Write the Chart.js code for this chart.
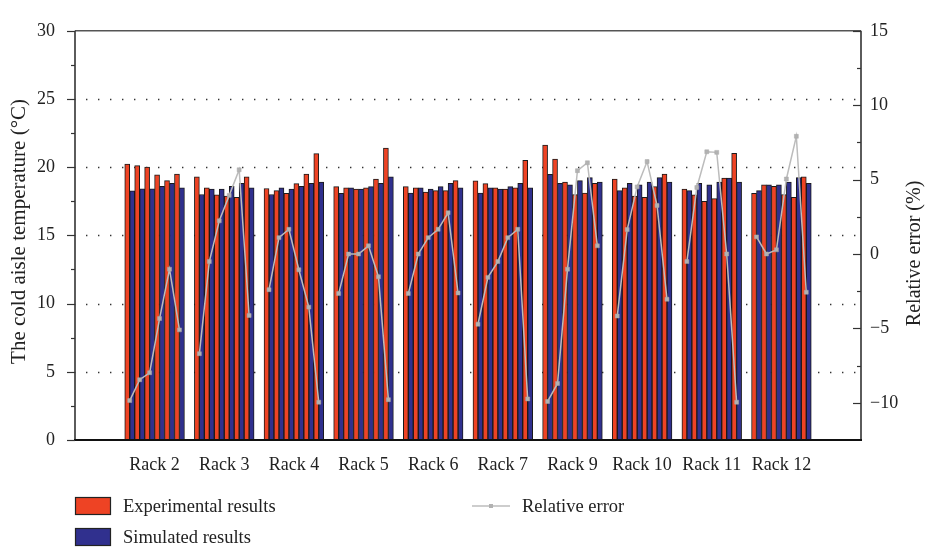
<!DOCTYPE html>
<html>
<head>
<meta charset="utf-8">
<style>
  html, body { margin: 0; padding: 0; background: #ffffff; }
  #wrap { width: 926px; height: 550px; }
</style>
<script src="https://cdn.jsdelivr.net/npm/chart.js@4/dist/chart.umd.min.js"></script>
</head>
<body>
<div id="wrap"><canvas id="chart" width="926" height="550"></canvas></div>
<script>
// Rack names along the x axis
const racks = ['Rack 2', 'Rack 3', 'Rack 4', 'Rack 5', 'Rack 6', 'Rack 7', 'Rack 9', 'Rack 10', 'Rack 11', 'Rack 12'];

// Cold aisle temperature (°C), six measuring points per rack
const experimental = [
  20.23, 20.12, 20.00, 19.44, 19.02, 19.49,
  19.30, 18.49, 17.98, 17.88, 17.79, 19.30,
  18.44, 18.28, 18.09, 18.79, 19.49, 21.00,
  18.58, 18.49, 18.40, 18.49, 19.12, 21.40,
  18.58, 18.49, 18.18, 18.28, 18.28, 19.02,
  19.00, 18.79, 18.49, 18.40, 18.49, 20.51,
  21.63, 20.60, 18.91, 18.00, 18.11, 18.81,
  19.12, 18.49, 17.88, 17.79, 18.58, 19.49,
  18.40, 17.98, 17.49, 17.70, 19.21, 21.02,
  18.09, 18.70, 18.60, 18.00, 17.79, 19.30
];
const simulated = [
  18.26, 18.42, 18.42, 18.60, 18.81, 18.49,
  18.00, 18.40, 18.40, 18.60, 18.81, 18.49,
  18.00, 18.49, 18.40, 18.60, 18.81, 18.91,
  18.09, 18.49, 18.40, 18.58, 18.81, 19.30,
  18.11, 18.49, 18.40, 18.58, 18.81, 18.49,
  18.11, 18.49, 18.40, 18.58, 18.81, 18.49,
  19.47, 18.81, 18.70, 19.02, 19.23, 18.91,
  18.28, 18.81, 18.70, 18.91, 19.23, 18.91,
  18.28, 18.81, 18.70, 18.91, 19.21, 18.91,
  18.28, 18.70, 18.70, 18.91, 19.23, 18.81
];
// Relative error (%)
const relativeError = [
  -9.85, -8.45, -7.98, -4.34, -1.02, -5.10,
  -6.70, -0.51,  2.23,  3.94,  5.66, -4.13,
  -2.40,  1.10,  1.66, -1.06, -3.57, -9.96,
  -2.66,  0.00,  0.00,  0.55, -1.53, -9.79,
  -2.66,  0.00,  1.10,  1.66,  2.77, -2.62,
  -4.72, -1.57, -0.51,  1.10,  1.66, -9.74,
  -9.91, -8.70, -1.02,  5.60,  6.13,  0.55,
  -4.17,  1.64,  4.51,  6.21,  3.26, -3.04,
  -0.51,  4.47,  6.87,  6.83,  0.00, -9.96,
   1.15,  0.00,  0.28,  5.04,  7.91, -2.57
];

// Axis ticks
const tempTicks = [0, 5, 10, 15, 20, 25, 30];
const errorTicks = [-10, -5, 0, 5, 10, 15];

const POINTS = 6;          // measuring points per rack
const SLOTS = 7;           // six points plus one empty slot between racks
const EDGE = 5;            // empty slots before the first and after the last rack

// x position (in rack units) of the j-th measuring point
const xOf = j => Math.floor(j / POINTS) + ((j % POINTS) - (POINTS - 1) / 2) / SLOTS;

const expData = experimental.map((v, j) => ({ x: xOf(j), y: v }));
const simData = simulated.map((v, j) => ({ x: xOf(j), y: v }));
const errData = [];
relativeError.forEach((v, j) => {
  errData.push({ x: xOf(j), y: v });
  const r = Math.floor(j / POINTS);
  if (j % POINTS === POINTS - 1 && r < racks.length - 1) errData.push({ x: r + 0.5, y: null });
});

const FONT = 'Liberation Serif';
const RED = '#EE4324';
const BLUE = '#30308E';
const GREY = '#bcbcbc';

const fmt = v => (v < 0 ? '\u2212' + Math.abs(v) : String(v));

const decorations = {
  id: 'decorations',
  beforeDatasetsDraw(chart) {
    const { ctx, chartArea: a, scales } = chart;
    ctx.save();
    ctx.strokeStyle = '#333';
    ctx.lineWidth = 1.4;
    ctx.setLineDash([1.4, 10.6]);
    ctx.lineDashOffset = -11;
    tempTicks.slice(1, -1).forEach(v => {
      const y = Math.round(scales.y.getPixelForValue(v)) + 0.5;
      ctx.beginPath();
      ctx.moveTo(a.left, y);
      ctx.lineTo(a.right, y);
      ctx.stroke();
    });
    ctx.restore();
  },
  afterDatasetsDraw(chart) {
    const { ctx, chartArea: a, scales } = chart;
    ctx.save();
    // frame
    ctx.lineWidth = 1.6;
    ctx.strokeStyle = '#555';
    ctx.beginPath(); ctx.moveTo(a.left, a.top); ctx.lineTo(a.right, a.top); ctx.stroke();
    ctx.strokeStyle = '#333';
    ctx.beginPath(); ctx.moveTo(a.left, a.top); ctx.lineTo(a.left, a.bottom); ctx.stroke();
    ctx.beginPath(); ctx.moveTo(a.right, a.top); ctx.lineTo(a.right, a.bottom); ctx.stroke();
    ctx.strokeStyle = '#111';
    ctx.lineWidth = 2;
    ctx.beginPath(); ctx.moveTo(a.left - 1, a.bottom); ctx.lineTo(a.right + 1, a.bottom); ctx.stroke();
    // tick marks: major every 5, minor half-way between
    ctx.lineWidth = 1.2;
    ctx.strokeStyle = '#333';
    const mark = (x0, x1, y) => { ctx.beginPath(); ctx.moveTo(x0, y); ctx.lineTo(x1, y); ctx.stroke(); };
    for (let i = 0; i < tempTicks.length; i++) {
      const v = tempTicks[i];
      mark(a.left - 8, a.left, Math.round(scales.y.getPixelForValue(v)) + 0.5);
      if (i < tempTicks.length - 1) {
        const m = (v + tempTicks[i + 1]) / 2;
        mark(a.left - 4, a.left, Math.round(scales.y.getPixelForValue(m)) + 0.5);
      }
    }
    for (let i = 0; i < errorTicks.length; i++) {
      const v = errorTicks[i];
      mark(a.right - 8, a.right, Math.round(scales.y1.getPixelForValue(v)) + 0.5);
      const m = v - 2.5;
      if (m > scales.y1.min) mark(a.right - 4, a.right, Math.round(scales.y1.getPixelForValue(m)) + 0.5);
    }
    ctx.restore();
  },
  afterDraw(chart) {
    const { ctx, chartArea: a } = chart;
    ctx.save();
    ctx.fillStyle = '#222';
    ctx.textAlign = 'center';
    ctx.textBaseline = 'middle';
    const midY = (a.top + a.bottom) / 2;
    // axis titles, both reading bottom to top
    [['The cold aisle temperature (\u00B0C)', 19, 21, midY - 4], ['Relative error (%)', 915, 20, midY + 18]].forEach(([t, x, size, y]) => {
      ctx.save();
      ctx.font = size + 'px "' + FONT + '"';
      ctx.translate(x, y);
      ctx.rotate(-Math.PI / 2);
      ctx.fillText(t, 0, 0);
      ctx.restore();
    });

    // legend
    const ds = chart.data.datasets;
    ctx.font = '18.5px "' + FONT + '"';
    ctx.textAlign = 'left';
    const boxes = [[ds[0], 506], [ds[1], 537]];
    boxes.forEach(([d, y]) => {
      ctx.fillStyle = d.backgroundColor;
      ctx.fillRect(75, y - 9, 36, 18);
      ctx.strokeStyle = '#222';
      ctx.lineWidth = 1.2;
      ctx.strokeRect(75.5, y - 8.5, 35, 17);
      ctx.fillStyle = '#222';
      ctx.fillText(d.label, 123, y + 1);
    });
    const e = ds[2];
    ctx.strokeStyle = e.borderColor;
    ctx.lineWidth = 1.5;
    ctx.beginPath(); ctx.moveTo(472, 506); ctx.lineTo(510, 506); ctx.stroke();
    ctx.fillStyle = e.pointBackgroundColor;
    ctx.fillRect(489, 504, 4, 4);
    ctx.fillStyle = '#222';
    ctx.fillText(e.label, 522, 507);
    ctx.restore();
  }
};

new Chart(document.getElementById('chart'), {
  type: 'bar',
  data: {
    datasets: [
      {
        label: 'Experimental results',
        data: expData,
        backgroundColor: RED,
        borderColor: '#1a1a1a',
        borderWidth: 1,
        yAxisID: 'y',
        order: 1
      },
      {
        label: 'Simulated results',
        data: simData,
        backgroundColor: BLUE,
        borderColor: '#1a1a1a',
        borderWidth: 1,
        yAxisID: 'y',
        order: 1
      },
      {
        type: 'line',
        label: 'Relative error',
        data: errData,
        yAxisID: 'y1',
        borderColor: GREY,
        borderWidth: 1.5,
        pointStyle: 'rect',
        pointRadius: 2.8,
        pointBackgroundColor: '#b2b2b2',
        pointBorderColor: '#a9a9a9',
        pointBorderWidth: 0.5,
        spanGaps: false,
        tension: 0,
        order: 0
      }
    ]
  },
  options: {
    responsive: false,
    animation: false,
    devicePixelRatio: 1,
    datasets: { bar: { barPercentage: 1, categoryPercentage: 1 } },
    layout: { padding: { top: 10, left: 0, right: 0, bottom: 0 } },
    plugins: { legend: { display: false }, tooltip: { enabled: false } },
    scales: {
      x: {
        type: 'linear',
        offset: false,
        min: -(EDGE + SLOTS / 2 - 0.5) / SLOTS,
        max: racks.length - 1 + (EDGE + SLOTS / 2 - 0.5) / SLOTS,
        grid: { display: false, drawTicks: false, offset: false },
        border: { display: false },
        afterBuildTicks: s => { s.ticks = racks.map((_, i) => ({ value: i })); },
        afterFit: s => { s.height = 110; },
        ticks: {
          autoSkip: false,
          maxRotation: 0,
          padding: 14,
          color: '#222',
          font: { family: FONT, size: 18 },
          callback: (v, i) => racks[i]
        }
      },
      y: {
        position: 'left',
        min: 0,
        max: 30,
        grid: { display: false, drawTicks: false },
        border: { display: false },
        afterBuildTicks: s => { s.ticks = tempTicks.map(v => ({ value: v })); },
        afterFit: s => { s.width = 75; },
        ticks: { padding: 20, color: '#222', font: { family: FONT, size: 18 }, callback: v => fmt(v) }
      },
      y1: {
        position: 'right',
        min: -12.5,
        max: 15,
        grid: { display: false, drawTicks: false },
        border: { display: false },
        afterBuildTicks: s => { s.ticks = errorTicks.map(v => ({ value: v })); },
        afterFit: s => { s.width = 65; },
        ticks: { padding: 9, color: '#222', font: { family: FONT, size: 18 }, callback: v => fmt(v) }
      }
    }
  },
  plugins: [decorations]
});
</script>
</body>
</html>
